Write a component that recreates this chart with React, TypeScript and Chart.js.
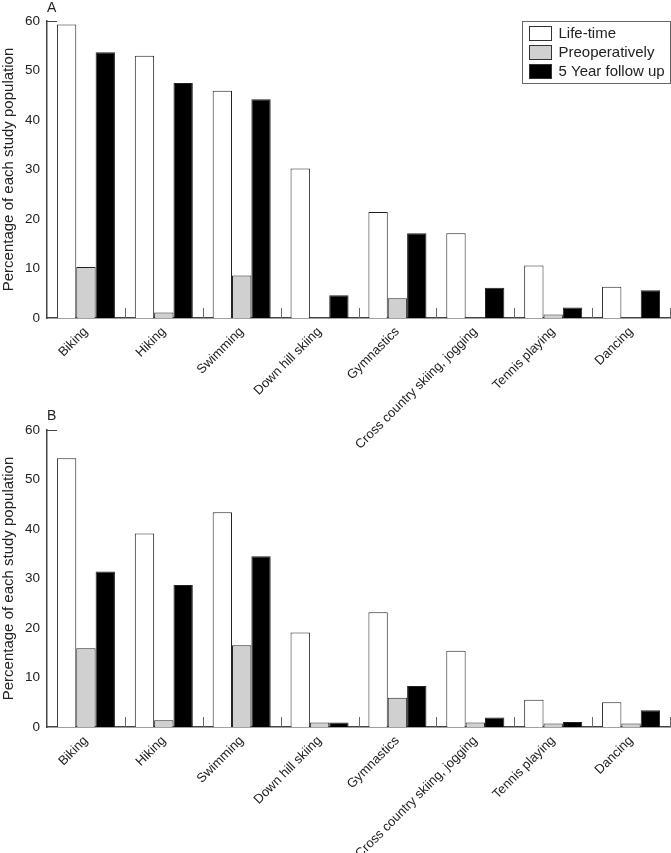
import React, { useEffect, useRef } from "react";
import { Chart, registerables } from "chart.js";

Chart.register(...registerables);

const categories = [
  "Biking",
  "Hiking",
  "Swimming",
  "Down hill skiing",
  "Gymnastics",
  "Cross country skiing, jogging",
  "Tennis playing",
  "Dancing",
];
const seriesNames = ["Life-time", "Preoperatively", "5 Year follow up"];

const lifetimeA = [59.3, 53.0, 45.9, 30.2, 21.4, 17.1, 10.6, 6.3];
const preopA = [10.3, 1.1, 8.6, 0, 4.0, 0, 0.7, 0];
const followA = [53.7, 47.5, 44.2, 4.6, 17.1, 6.1, 2.1, 5.6];

const lifetimeB = [54.3, 39.1, 43.4, 19.1, 23.2, 15.4, 5.5, 5.0];
const preopB = [15.9, 1.35, 16.5, 0.9, 5.9, 0.9, 0.7, 0.7];
const followB = [31.4, 28.7, 34.5, 0.9, 8.3, 1.9, 1.0, 3.4];

const yMin = 0;
const yMax = 60;
const yStep = 10;
const yTitle = "Percentage of each study population";

const FONT = "'Liberation Sans', Arial, Helvetica, sans-serif";
const fills = ["#ffffff", "#d0d0d0", "#000000"];

const decorPlugin = {
  id: "decor",
  afterDraw(chart: any, _args: any, opts: any) {
    const ctx = chart.ctx;
    const xs = chart.scales.x;
    const ys = chart.scales.y;
    const { left, right, bottom } = chart.chartArea;
    const n = categories.length;
    ctx.save();
    ctx.strokeStyle = "#666";
    ctx.lineWidth = 1;
    for (let i = 0; i < n; i++) {
      const x =
        i < n - 1
          ? (xs.getPixelForValue(i) + xs.getPixelForValue(i + 1)) / 2
          : right - 0.5;
      ctx.beginPath();
      ctx.moveTo(Math.round(x) + 0.5, bottom - 10);
      ctx.lineTo(Math.round(x) + 0.5, bottom);
      ctx.stroke();
    }
    const yTop = ys.getPixelForValue(yMax);
    ctx.strokeStyle = "#444";
    ctx.beginPath();
    ctx.moveTo(left, Math.round(yTop) + 0.5);
    ctx.lineTo(left + 10, Math.round(yTop) + 0.5);
    ctx.stroke();

    if (opts && opts.legend) {
      const w = 148;
      const h = 62;
      const bx = Math.round(right - w) + 0.5;
      const by = Math.round(yTop) + 0.5;
      ctx.fillStyle = "#fff";
      ctx.fillRect(bx, by, w, h);
      ctx.strokeStyle = "#666";
      ctx.lineWidth = 1;
      ctx.strokeRect(bx, by, w, h);
      ctx.font = `15px ${FONT}`;
      ctx.textBaseline = "middle";
      ctx.textAlign = "left";
      seriesNames.forEach((name, i) => {
        const sy = by + 5 + i * 19;
        ctx.fillStyle = fills[i];
        ctx.fillRect(bx + 7, sy, 22, 14);
        ctx.strokeStyle = "#333";
        ctx.strokeRect(bx + 7, sy, 22, 14);
        ctx.fillStyle = "#222";
        ctx.fillText(name, bx + 36, sy + 7.5);
      });
    }
    ctx.restore();
  },
};

type PanelProps = {
  letter: string;
  top: number;
  height: number;
  padTop: number;
  plotBottom: number;
  lifetime: number[];
  preop: number[];
  follow: number[];
  legend: boolean;
  letterTop: number;
};

function Panel(p: PanelProps) {
  const ref = useRef<HTMLCanvasElement | null>(null);
  useEffect(() => {
    if (!ref.current) return;
    const data = [p.lifetime, p.preop, p.follow];
    const chart = new Chart(ref.current, {
      type: "bar",
      data: {
        labels: categories,
        datasets: seriesNames.map((name, i) => ({
          label: name,
          data: data[i],
          backgroundColor: fills[i],
          borderColor: "#222",
          borderWidth: 1,
          borderSkipped: "bottom" as any,
          barPercentage: 1,
          categoryPercentage: 0.745,
        })),
      },
      options: {
        animation: false,
        responsive: false,
        maintainAspectRatio: false,
        layout: { padding: { top: p.padTop, left: 0, right: 1, bottom: 0 } },
        plugins: {
          legend: { display: false },
          tooltip: { enabled: false },
          title: { display: false },
          decor: { legend: p.legend },
        } as any,
        scales: {
          x: {
            grid: { display: false, drawTicks: false },
            border: { display: true, color: "#444", width: 1.5 },
            ticks: {
              autoSkip: false,
              minRotation: 45,
              maxRotation: 45,
              padding: 6,
              color: "#222",
              font: { family: FONT, size: 13 },
            },
            afterFit(scale: any) {
              scale.height = p.height - p.plotBottom;
            },
          },
          y: {
            min: yMin,
            max: yMax,
            grid: { display: false, drawTicks: false },
            border: { display: true, color: "#444", width: 1.5 },
            ticks: {
              stepSize: yStep,
              padding: 7,
              color: "#222",
              font: { family: FONT, size: 13.5 },
            },
            title: {
              display: true,
              text: yTitle,
              color: "#222",
              font: { family: FONT, size: 15 },
              padding: { top: 0, bottom: 1 },
            },
            afterFit(scale: any) {
              scale.width = 47;
            },
          },
        },
      },
      plugins: [decorPlugin],
    });
    return () => chart.destroy();
  }, []);
  return (
    <>
      <canvas
        ref={ref}
        width={671}
        height={p.height}
        style={{ position: "absolute", left: 0, top: p.top, width: 671, height: p.height }}
      />
      <div
        style={{
          position: "absolute",
          left: 47,
          top: p.letterTop,
          font: `14px ${FONT}`,
          color: "#222",
          lineHeight: "14px",
        }}
      >
        {p.letter}
      </div>
    </>
  );
}

export default function App() {
  useEffect(() => {
    document.body.style.margin = "0";
  }, []);
  return (
    <div style={{ position: "relative", width: 671, height: 853, overflow: "hidden", background: "#fff" }}>
      <Panel
        letter="A"
        top={0}
        height={460}
        padTop={21}
        plotBottom={318}
        lifetime={lifetimeA}
        preop={preopA}
        follow={followA}
        legend={true}
        letterTop={0}
      />
      <Panel
        letter="B"
        top={400}
        height={453}
        padTop={30}
        plotBottom={327}
        lifetime={lifetimeB}
        preop={preopB}
        follow={followB}
        legend={false}
        letterTop={408}
      />
    </div>
  );
}
